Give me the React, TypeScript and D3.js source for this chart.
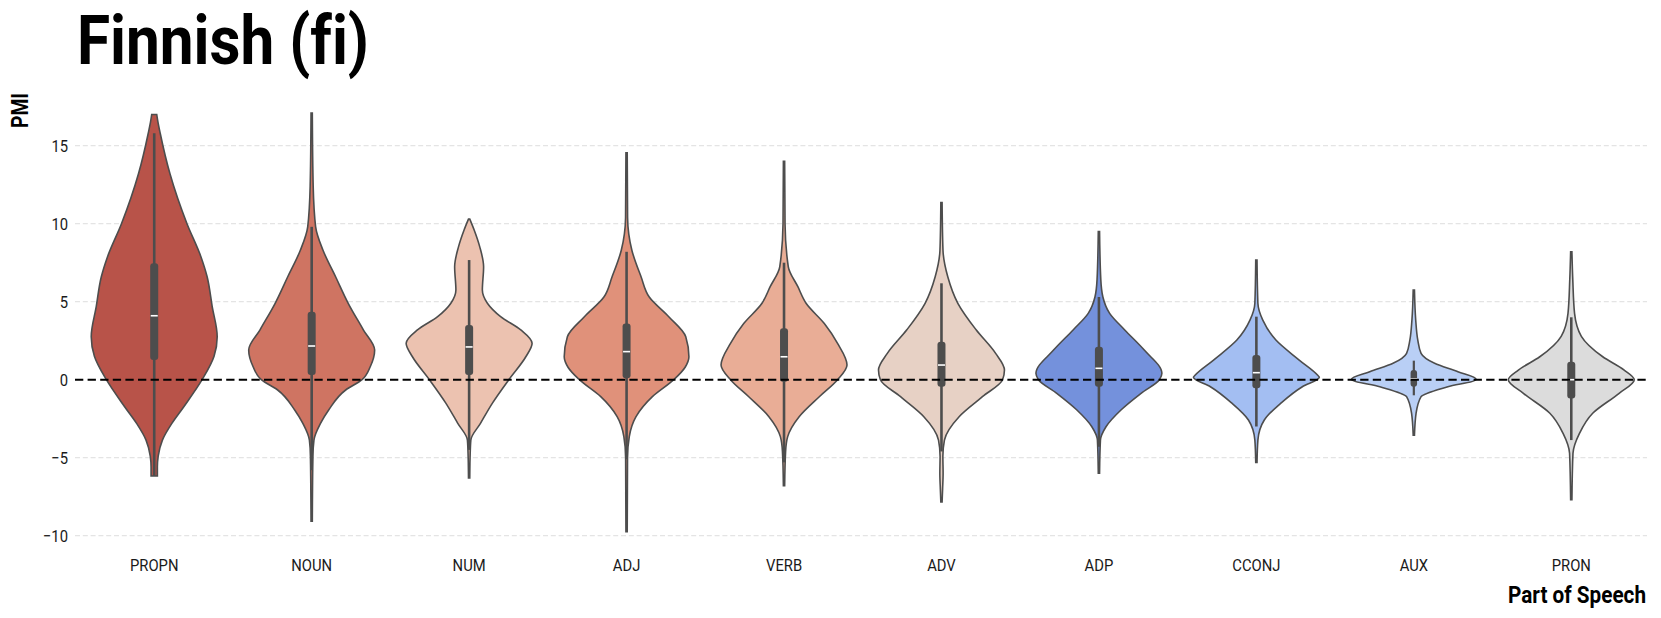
import React from "react";
import * as d3 from "d3";

const categories = ["PROPN", "NOUN", "NUM", "ADJ", "VERB", "ADV", "ADP", "CCONJ", "AUX", "PRON"];
const colors = ["#b85349", "#cf7462", "#ecc2b0", "#e0917a", "#e9ad96", "#e7d1c5", "#7491dc", "#a3bef2", "#b9cff5", "#dcdcdc"];
const yTicks = [-10, -5, 0, 5, 10, 15];

// density profiles: [PMI value, relative density]
const densPROPN = [[17.0,0.04],[16.5,0.06],[15.8,0.095],[13.2,0.25],[10.0,0.52],[7.9,0.74],[6.6,0.84],[4.7,0.92],[2.76,1.0],[1.5,0.95],[0,0.76],[-1.73,0.47],[-2.8,0.28],[-3.87,0.13],[-4.9,0.063],[-5.6,0.05],[-6.17,0.05]];
const densNOUN = [[17.1,0.01],[12.4,0.024],[9.8,0.063],[8.3,0.18],[6.6,0.38],[4.9,0.58],[3.2,0.82],[1.9,1.0],[0.83,0.93],[0,0.8],[-0.66,0.54],[-1.94,0.27],[-2.8,0.14],[-3.87,0.036],[-4.9,0.02],[-9.07,0.01]];
const densNUM = [[10.3,0.01],[9.6,0.08],[8.5,0.17],[7.24,0.23],[5.75,0.21],[4.9,0.29],[4.04,0.5],[3.19,0.82],[2.33,1.0],[1.47,0.9],[0,0.63],[-1.5,0.37],[-2.8,0.18],[-3.87,0.027],[-5,0.015],[-6.3,0.01]];
const densADJ = [[14.55,0.01],[10.4,0.016],[8.3,0.084],[6.6,0.23],[5.3,0.36],[4.04,0.67],[2.76,0.94],[1.47,0.99],[0.8,0.93],[0,0.75],[-1.09,0.41],[-2.37,0.15],[-3.65,0.043],[-5,0.015],[-9.75,0.01]];
const densVERB = [[14.0,0.01],[10.0,0.016],[7.24,0.068],[5.96,0.22],[4.9,0.35],[3.6,0.64],[2.33,0.85],[0.94,1.0],[0,0.85],[-1.09,0.56],[-2.37,0.24],[-3.65,0.058],[-4.6,0.025],[-6.8,0.01]];
const densADV = [[11.35,0.01],[8.3,0.024],[6.6,0.1],[4.9,0.26],[3.2,0.55],[1.69,0.86],[0.62,1.0],[0,0.97],[-1.09,0.65],[-2.37,0.28],[-3.87,0.047],[-4.9,0.022],[-6,0.026],[-7,0.018],[-7.84,0.01]];
const densADP = [[9.5,0.01],[6.4,0.03],[5.3,0.063],[4.25,0.17],[3.19,0.41],[1.9,0.72],[0.41,1.0],[0,0.96],[-0.87,0.67],[-1.94,0.35],[-3.0,0.115],[-3.87,0.024],[-6.0,0.01]];
const densCCONJ = [[7.67,0.01],[4.9,0.024],[3.83,0.1],[2.54,0.31],[1.26,0.68],[0.3,0.97],[0.15,1.0],[-0.45,0.73],[-1.5,0.39],[-2.58,0.126],[-3.87,0.024],[-5.3,0.01]];
const densAUX = [[5.75,0.01],[3.83,0.03],[2.54,0.063],[1.69,0.115],[1.05,0.33],[0.51,0.7],[0.02,0.99],[-0.45,0.54],[-1.09,0.115],[-2.15,0.036],[-3.55,0.01]];
const densPRON = [[8.2,0.01],[6.4,0.024],[4.25,0.052],[2.78,0.16],[1.47,0.5],[0.62,0.84],[0,1.0],[-0.87,0.76],[-2.15,0.34],[-3.44,0.13],[-4.72,0.027],[-7.7,0.01]];
const densities = [densPROPN, densNOUN, densNUM, densADJ, densVERB, densADV, densADP, densCCONJ, densAUX, densPRON];

// box stats
const q1 = [1.26, 0.3, 0.3, 0.09, -0.13, -0.45, -0.45, -0.55, -0.45, -1.2];
const medians = [4.1, 2.16, 2.1, 1.8, 1.47, 0.94, 0.73, 0.45, 0.05, 0.0];
const q3 = [7.46, 4.36, 3.5, 3.6, 3.3, 2.44, 2.12, 1.58, 0.62, 1.15];
const whiskerLow = [-6.17, -5.8, -4.5, -5.1, -5.3, -4.6, -4.3, -3.0, -1.0, -3.87];
const whiskerHigh = [15.8, 9.8, 7.67, 8.2, 7.5, 6.18, 5.3, 4.04, 1.22, 4.0];

const W = 1661;
const H = 618;
const plotLeft = 75;
const plotRight = 1647;

export default function App() {
  React.useEffect(() => {
    document.body.style.margin = "0";
  }, []);
  const x = d3.scaleBand<string>().domain(categories).range([75.5, 1650]).padding(0);
  const y = d3.scaleLinear().domain([-10, 15]).range([535.7, 145.7]);
  const wScale = d3.scaleLinear().domain([0, 1]).range([0, x.bandwidth() * 0.4]);
  const font = "Roboto, 'Noto Sans', sans-serif";
  const outline = "#4d4d4d";

  return (
    <svg width={W} height={H} style={{ display: "block", position: "absolute", left: 0, top: 0, background: "#fff" }}>
      {yTicks.filter((t) => t !== 0).map((t) => (
        <line key={"g" + t} x1={plotLeft} x2={plotRight} y1={y(t)} y2={y(t)} stroke="#e4e4e4" strokeWidth={1.3} strokeDasharray="5,2.8" />
      ))}
      {yTicks.map((t) => (
        <text key={"yt" + t} transform={`translate(68,${y(t) + 6}) scale(0.87,1)`} textAnchor="end" fontFamily={font} fontSize={17} fill="#1a1a1a">
          {t < 0 ? "\u2212" + Math.abs(t) : String(t)}
        </text>
      ))}
      {categories.map((c, i) => {
        const cx = (x(c) as number) + x.bandwidth() / 2;
        const area = d3
          .area<number[]>()
          .y((d) => y(d[0]))
          .x0((d) => cx - wScale(d[1]))
          .x1((d) => cx + wScale(d[1]))
          .curve(d3.curveMonotoneY);
        const small = q3[i] - q1[i] < 1.5;
        const bw = small ? 6.5 : 8;
        return (
          <g key={c}>
            <path d={area(densities[i]) || ""} fill={colors[i]} stroke={outline} strokeWidth={1.6} />
            <line x1={cx} x2={cx} y1={y(whiskerHigh[i])} y2={y(whiskerLow[i])} stroke={outline} strokeWidth={small ? 2.2 : 2.6} />
            <rect x={cx - bw / 2} width={bw} y={y(q3[i])} height={y(q1[i]) - y(q3[i])} rx={3} fill={outline} />
            <line x1={cx - 3.5} x2={cx + 3.5} y1={y(medians[i])} y2={y(medians[i])} stroke="#fff" strokeWidth={1.6} />
            <text transform={`translate(${cx},571) scale(0.87,1)`} textAnchor="middle" fontFamily={font} fontSize={17} fill="#1a1a1a">
              {c}
            </text>
          </g>
        );
      })}
      <line x1={plotLeft} x2={plotRight} y1={y(0)} y2={y(0)} stroke="#000" strokeWidth={2} strokeDasharray="8.3,4.3" />
      <text x={77} y={64} fontFamily={font} fontWeight={700} fontSize={68} textLength={292} lengthAdjust="spacingAndGlyphs" fill="#000" style={{ fontVariantLigatures: "none", fontFeatureSettings: "'liga' 0" }}>
        Finnish (fi)
      </text>
      <text transform="translate(28.3,110.5) rotate(-90)" textAnchor="middle" fontFamily={font} fontWeight={700} fontSize={23} textLength={35} lengthAdjust="spacingAndGlyphs" fill="#000">
        PMI
      </text>
      <text x={1646} y={603} textAnchor="end" fontFamily={font} fontWeight={700} fontSize={23} textLength={138} lengthAdjust="spacingAndGlyphs" fill="#000">
        Part of Speech
      </text>
    </svg>
  );
}
